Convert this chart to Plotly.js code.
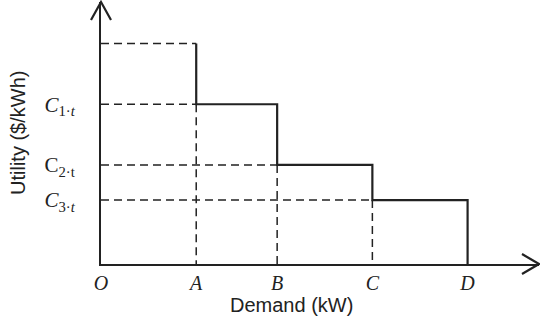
<!DOCTYPE html>
<html>
<head>
<meta charset="utf-8">
<script src="https://cdn.plot.ly/plotly-3.0.1.min.js"></script>
<style>html,body{margin:0;padding:0;background:#fff}#chart{width:540px;height:320px}</style>
</head>
<body>
<div id="chart"></div>
<script>
// Demand break points (O, A, B, C, D) in arbitrary kW units
const xLabels = ['O', 'A', 'B', 'C', 'D'];
const demand = [0, 2.0, 3.7, 5.7, 7.7];
// Utility levels: first block (above C1), then C1, C2, C3
const utility = [3.45, 2.5, 1.55, 1.0];
const yLabels = [
  '<i>C</i><sub>1·<i>t</i></sub>',
  'C<sub>2·t</sub>',
  '<i>C</i><sub>3·<i>t</i></sub>'
];
const xMax = 9.2, yMax = 4.1;

// solid step curve
const stepX = [demand[1], demand[2], demand[3], demand[4], demand[4]];
const stepY = [utility[0], utility[1], utility[2], utility[3], 0];

// dashed guide lines (horizontal to y axis, vertical to x axis)
const gx = [], gy = [];
const hEnds = [demand[1], demand[1], demand[2], demand[3]];
utility.forEach((u, i) => { gx.push(0, hEnds[i], null); gy.push(u, u, null); });
for (let i = 1; i <= 3; i++) { gx.push(demand[i], demand[i], null); gy.push(utility[i], 0, null); }

const traces = [
  {x: gx, y: gy, mode: 'lines', line: {color: '#222', width: 1.5, dash: '8px,5px'}, hoverinfo: 'skip', showlegend: false},
  {x: stepX, y: stepY, mode: 'lines', line: {color: '#222', width: 2.2, shape: 'vh'}, hoverinfo: 'skip', showlegend: false}
];

const layout = {
  width: 540, height: 320,
  margin: {l: 101, r: 1, t: 2, b: 56},
  paper_bgcolor: '#fff', plot_bgcolor: '#fff',
  showlegend: false,
  xaxis: {
    range: [0, xMax], showgrid: false, zeroline: false,
    showline: true, linecolor: '#222', linewidth: 2,
    tickmode: 'array', tickvals: demand, ticktext: xLabels,
    ticks: '',
    tickfont: {family: 'Liberation Serif', size: 20, color: '#222', style: 'italic'},
    fixedrange: true
  },
  yaxis: {
    range: [0, yMax], showgrid: false, zeroline: false,
    showline: true, linecolor: '#222', linewidth: 2,
    tickmode: 'array', tickvals: utility.slice(1), ticktext: yLabels,
    ticks: 'outside', ticklen: 20, tickcolor: 'rgba(0,0,0,0)',
    tickfont: {family: 'Liberation Serif', size: 21, color: '#222'},
    fixedrange: true
  },
  annotations: [
    {text: 'Utility ($/kWh)', xref: 'paper', yref: 'paper', x: (18 - 101) / 438, y: 0.5,
     xanchor: 'center', yanchor: 'middle', textangle: -90, showarrow: false,
     font: {family: 'Liberation Sans', size: 20, color: '#222'}},
    {text: 'Demand (kW)', xref: 'paper', yref: 'paper', x: (291 - 101) / 438, y: -(305 - 264) / 262,
     xanchor: 'center', yanchor: 'middle', showarrow: false,
     font: {family: 'Liberation Sans', size: 20, color: '#222'}}
  ],
  shapes: [
    {type: 'path', xref: 'paper', yref: 'paper', xsizemode: 'pixel', ysizemode: 'pixel',
     xanchor: 0, yanchor: 1, path: 'M -10 -18 L 0 0 L 10 -18',
     line: {color: '#222', width: 2.2}},
    {type: 'path', xref: 'paper', yref: 'paper', xsizemode: 'pixel', ysizemode: 'pixel',
     xanchor: 1, yanchor: 0, path: 'M -17 10 L 0 0 L -17 -10',
     line: {color: '#222', width: 2.2}}
  ]
};

Plotly.newPlot('chart', traces, layout, {displayModeBar: false, staticPlot: true});
</script>
</body>
</html>
